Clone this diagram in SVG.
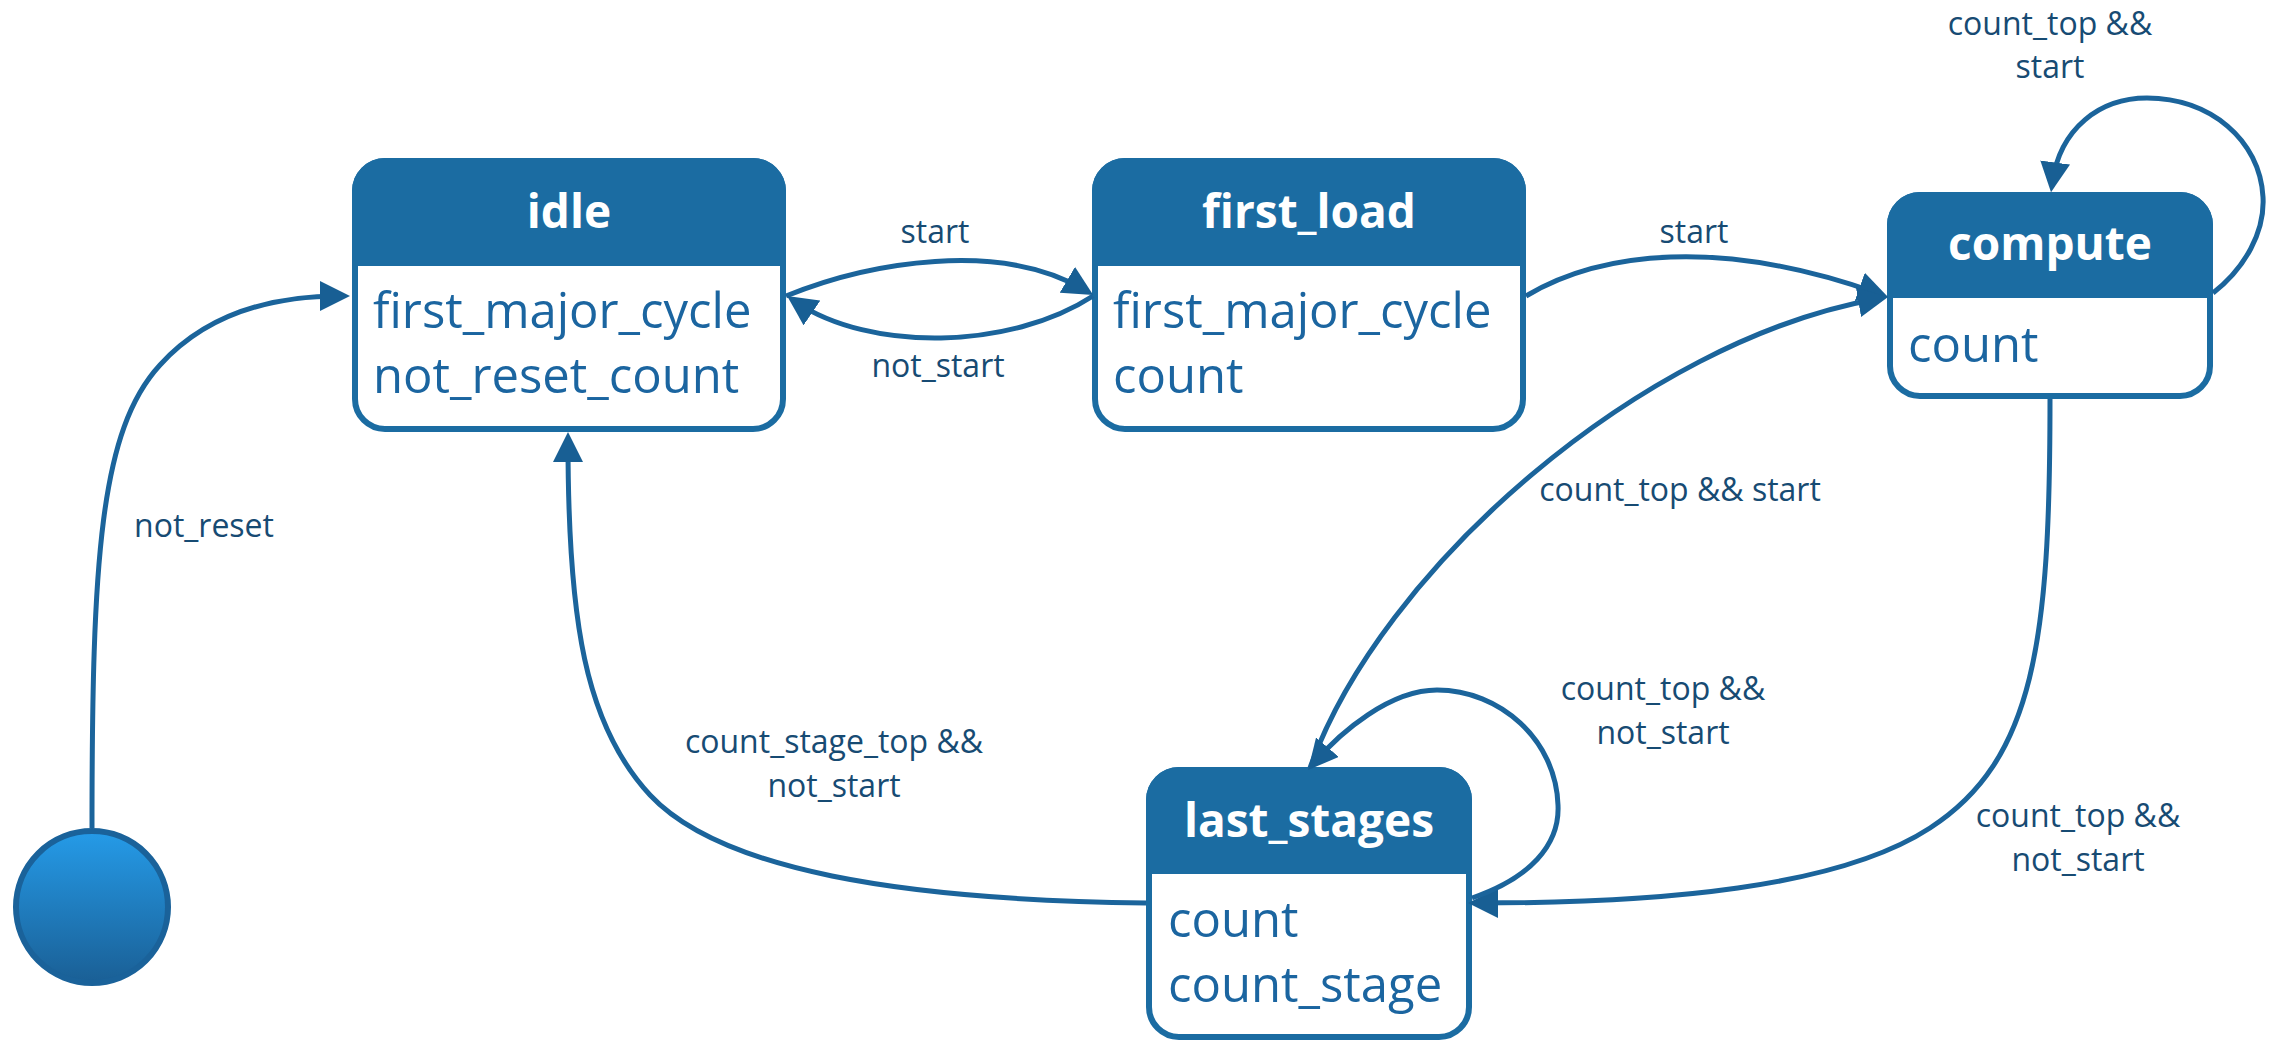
<svg xmlns="http://www.w3.org/2000/svg" width="2278" height="1058" viewBox="0 0 2278 1058">
<defs>
<linearGradient id="initGrad" x1="0" y1="0" x2="0" y2="1">
<stop offset="0" stop-color="#259BE8"/>
<stop offset="1" stop-color="#1A5F95"/>
</linearGradient>
<marker id="arr" viewBox="0 0 30 30" refX="20" refY="15" markerWidth="30" markerHeight="30" markerUnits="userSpaceOnUse" orient="auto">
<path d="M0,0 L30,15 L0,30 Z" fill="#185F94"/>
</marker>
</defs>
<style>
.box{fill:#FFFFFF;stroke:#1B6CA2;stroke-width:6}
.hdr{fill:#1B6CA2}
.title{font-family:"Open Sans","Noto Sans",sans-serif;font-weight:bold;font-size:46px;fill:#FFFFFF;text-anchor:middle}
.body{font-family:"Open Sans","Noto Sans",sans-serif;font-size:49px;fill:#1B65A0}
.lbl{font-family:"Open Sans","Noto Sans",sans-serif;font-size:32px;fill:#174B73;text-anchor:middle}
.edge{fill:none;stroke:#1B649B;stroke-width:5;marker-end:url(#arr)}
</style>
<rect width="2278" height="1058" fill="#FFFFFF"/>

<g id="initial">
<circle cx="92" cy="907" r="76" fill="url(#initGrad)" stroke="#1A629A" stroke-width="6"/>
</g>

<g id="idle">
<rect class="box" x="355" y="161" width="428" height="268" rx="30"/>
<path class="hdr" d="M352,266 V191 A33,33 0 0 1 385,158 H753 A33,33 0 0 1 786,191 V266 Z"/>
<text class="title" x="569" y="228">idle</text>
<text class="body" x="373" y="328">first_major_cycle</text>
<text class="body" x="373" y="393">not_reset_count</text>
</g>

<g id="first_load">
<rect class="box" x="1095" y="161" width="428" height="268" rx="30"/>
<path class="hdr" d="M1092,266 V191 A33,33 0 0 1 1125,158 H1493 A33,33 0 0 1 1526,191 V266 Z"/>
<text class="title" x="1309" y="228">first_load</text>
<text class="body" x="1113" y="328">first_major_cycle</text>
<text class="body" x="1113" y="393">count</text>
</g>

<g id="compute">
<rect class="box" x="1890" y="195" width="320" height="201" rx="30"/>
<path class="hdr" d="M1887,298 V225 A33,33 0 0 1 1920,192 H2180 A33,33 0 0 1 2213,225 V298 Z"/>
<text class="title" x="2050" y="260">compute</text>
<text class="body" x="1908" y="362">count</text>
</g>

<g id="last_stages">
<rect class="box" x="1149" y="770" width="320" height="267" rx="30"/>
<path class="hdr" d="M1146,874 V800 A33,33 0 0 1 1179,767 H1439 A33,33 0 0 1 1472,800 V874 Z"/>
<text class="title" x="1309" y="837">last_stages</text>
<text class="body" x="1168" y="937">count</text>
<text class="body" x="1168" y="1002">count_stage</text>
</g>

<g id="connectors">
<path class="edge" d="M92,828 C92,560 100,430 160,365 C210,310 280,296 340,296"/>
<text class="lbl" x="204" y="537">not_reset</text>

<path class="edge" d="M786,296 C870,262 1000,240 1084.6,290"/>
<text class="lbl" x="935" y="243">start</text>

<path class="edge" d="M1093,296 C1010,350 870,352 795.4,301.7"/>
<text class="lbl" x="938" y="377">not_start</text>

<path class="edge" d="M1526,296 C1600,252 1720,237 1878.6,293.6"/>
<text class="lbl" x="1694" y="243">start</text>

<path class="edge" d="M2213,293 C2245,268 2265,232 2263,197 C2260,140 2210,98 2147,98 C2100,98 2060,128 2052.4,182.3"/>
<text class="lbl" x="2050" y="35">count_top &amp;&amp;</text>
<text class="lbl" x="2050" y="78">start</text>

<path class="edge" d="M1310,768 C1380,570 1642,340 1878.2,298.7"/>
<text class="lbl" x="1680" y="501">count_top &amp;&amp; start</text>

<path class="edge" d="M2050,399 C2050,640 2035,760 1930,828 C1838,888 1660,903 1478,903"/>
<text class="lbl" x="2078" y="827">count_top &amp;&amp;</text>
<text class="lbl" x="2078" y="871">not_start</text>

<path class="edge" d="M1472,898 C1530,878 1560,845 1558,805 C1556,740 1500,690 1437,690 C1390,690 1340.5,732 1314.5,762.4"/>
<text class="lbl" x="1663" y="700">count_top &amp;&amp;</text>
<text class="lbl" x="1663" y="744">not_start</text>

<path class="edge" d="M1146,903 C900,900 720,870 650,795 C585,725 568,620 568,442"/>
<text class="lbl" x="834" y="753">count_stage_top &amp;&amp;</text>
<text class="lbl" x="834" y="797">not_start</text>
</g>
</svg>
